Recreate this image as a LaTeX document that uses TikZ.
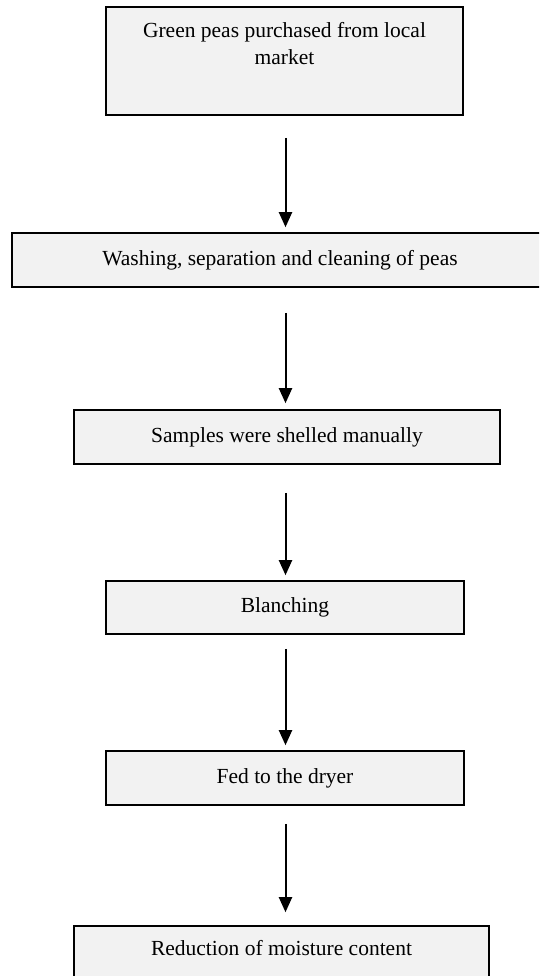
\documentclass[tikz,border=0pt]{standalone}
\usepackage{fontspec}
\setmainfont{Liberation Serif}
\usetikzlibrary{arrows.meta}
\definecolor{boxgray}{HTML}{F2F2F2}
\newcommand\flowfs{\fontsize{21.5}{27}\selectfont}
\begin{document}
\begin{tikzpicture}[x=1pt,y=-1pt,
  stepbox/.style={draw=black, line width=1.6pt, fill=boxgray, inner sep=0pt, font=\flowfs, shape=rectangle},
  steptext/.style={inner sep=0pt, font=\flowfs, align=center},
  arr/.style={line width=2pt, -{Triangle[width=13pt,length=15pt]}}]
\useasboundingbox (0,0) rectangle (539,976);
\clip (0,0) rectangle (539,976);
\coordinate (axis) at (285.5,0);
% boxes
\node[stepbox, minimum width=357pt, minimum height=108pt] (b1) at (284.5,61) {};
\node[steptext] (t1) at (284.5,44) {Green peas purchased from local\\market};
\node[stepbox, minimum width=536pt, minimum height=54pt] (b2) at (280,260) {Washing, separation and cleaning of peas};
\node[stepbox, minimum width=426pt, minimum height=54pt] (b3) at (287,437) {Samples were shelled manually};
\node[stepbox, minimum width=358pt, minimum height=53pt] (b4) at (285,607.5) {Blanching};
\node[stepbox, minimum width=358pt, minimum height=54pt] (b5) at (285,778) {Fed to the dryer};
\node[stepbox, minimum width=415pt, minimum height=70pt] (b6) at (281.5,961) {};
\node[steptext] (t6) at (281.5,948) {Reduction of moisture content};
% arrows
\draw[arr, shorten <=22pt, shorten >=5pt] (b1.south -| axis) -- (b2.north -| axis);
\draw[arr, shorten <=25pt, shorten >=6pt] (b2.south -| axis) -- (b3.north -| axis);
\draw[arr, shorten <=28pt, shorten >=5pt] (b3.south -| axis) -- (b4.north -| axis);
\draw[arr, shorten <=14pt, shorten >=5pt] (b4.south -| axis) -- (b5.north -| axis);
\draw[arr, shorten <=18pt, shorten >=13pt] (b5.south -| axis) -- (b6.north -| axis);
\end{tikzpicture}
\end{document}
